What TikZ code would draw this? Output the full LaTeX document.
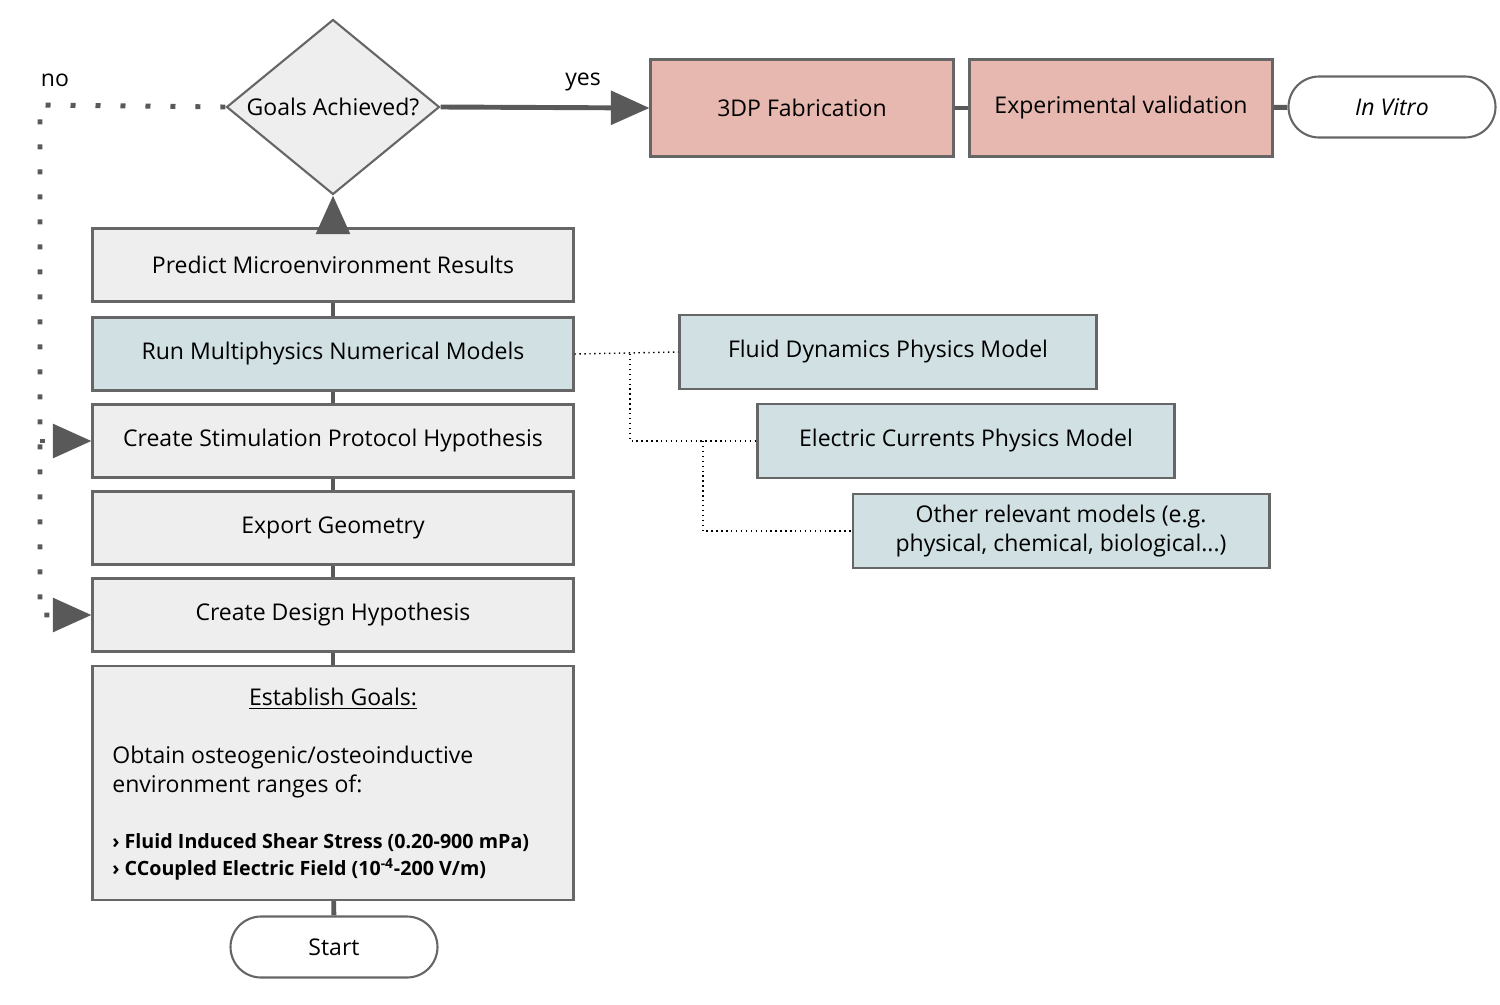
\documentclass[tikz,border=0pt]{standalone}
\usepackage{fontspec}
\setmainfont{Open Sans}
\usepackage{tikz}
\usetikzlibrary{shapes.geometric}
\usetikzlibrary{arrows.meta}

\definecolor{boxgray}{HTML}{EEEEEE}
\definecolor{edgegray}{HTML}{666666}
\definecolor{linegray}{HTML}{595959}
\definecolor{modelblue}{HTML}{D0E0E3}
\definecolor{fabred}{HTML}{E6B8AF}

\tikzset{
  every node/.style={font=\fontsize{13.1}{16.5}\selectfont},
  stepbox/.style={draw=edgegray, line width=1.2pt, fill=boxgray, minimum width=9.62cm, minimum height=1.46cm, inner sep=0pt},
  modelbox/.style={draw=edgegray, line width=1.2pt, fill=modelblue, minimum width=8.34cm, minimum height=1.48cm, inner sep=0pt, align=center},
  fabbox/.style={draw=edgegray, line width=1.2pt, fill=fabred, minimum width=6.06cm, minimum height=1.94cm, inner sep=0pt},
  endbox/.style={draw=edgegray, line width=1.2pt, fill=white, rounded corners=0.61cm, minimum width=4.14cm, minimum height=1.22cm, inner sep=0pt},
  flowline/.style={draw=linegray, line width=2.8pt},
  bigtip/.style={-{Triangle[length=22pt, width=19pt]}},
  noline/.style={draw=linegray, line width=2.8pt, dash pattern=on 0.1cm off 0.4cm},
  modelline/.style={draw=black, line width=0.8pt, dotted}
}

\begin{document}
\begin{tikzpicture}[x=0.02cm, y=-0.02cm]
\useasboundingbox (0,0) rectangle (1500,1004);

% decision
\node[diamond, draw=edgegray, line width=1.2pt, fill=boxgray, minimum width=4.26cm, minimum height=3.5cm, aspect=1.22, inner sep=0pt] (achieved) at (333,107) {Goals Achieved?};
\node (nolabel) at (55,80) {no};
\node (yeslabel) at (583,82) {yes};

% fabrication row
\node[fabbox] (fabrication) at (802,108) {3DP Fabrication};
\node[fabbox] (validation) at (1121,108) {Experimental validation};
\node[endbox] (invitro) at (1392,107) {\itshape In Vitro};

% left column
\foreach \Name/\Y/\Text in {predict/265/Predict Microenvironment Results, stimulation/441/Create Stimulation Protocol Hypothesis, geometry/528/Export Geometry, design/615/Create Design Hypothesis}
    \node[stepbox] (\Name) at (333,\Y) {\Text};
\node[stepbox, fill=modelblue] (multiphysics) at (333,354) {Run Multiphysics Numerical Models};
\node[stepbox, minimum height=4.68cm] (goals) at (333,783) {};
\node (goalstitle) at (333,699) {\underline{Establish Goals:}};
\node[anchor=west, align=left, inner sep=0pt] (goalstext) at (112,772) {Obtain osteogenic/osteoinductive\\environment ranges of:};
\node[anchor=west, align=left, inner sep=0pt, font=\fontsize{11.2}{15.5}\selectfont\bfseries] (goalslist) at (112,857) {› Fluid Induced Shear Stress (0.20-900 mPa)\\› CCoupled Electric Field (10\textsuperscript{-4}-200 V/m)};
\node[endbox] (start) at (334,947) {Start};

% physics models
\node[modelbox] (fluid) at (888,352) {Fluid Dynamics Physics Model};
\node[modelbox] (electric) at (966,441) {Electric Currents Physics Model};
\node[modelbox] (other) at (1061,531) {Other relevant models (e.g.\\physical, chemical, biological...)};

% connectors
\foreach \A/\B in {start/goals, goals/design, design/geometry, geometry/stimulation, stimulation/multiphysics, multiphysics/predict, fabrication/validation, validation/invitro}
    \draw[flowline] (\A) -- (\B);
\draw[flowline, bigtip] (predict) -- (achieved);
\draw[flowline, bigtip] (achieved.east) -- (fabrication.west);

% no loop
\coordinate (noturn) at (40,105);
\coordinate (nostim) at (40,441);
\coordinate (nodesign) at (40,615);
\draw[noline, bigtip] (achieved.west) -- (noturn) -- (nodesign) -- (design.west);
\draw[noline, bigtip] (nostim) -- (stimulation.west);

% model links
\coordinate (splitfluid) at (630,354);
\coordinate (splitelectric) at (703,441);
\draw[modelline] (multiphysics.east) -- (fluid.west);
\draw[modelline] (splitfluid) -- (630,441) -- (electric.west);
\draw[modelline] (splitelectric) -- (703,531) -- (other.west);
\end{tikzpicture}
\end{document}
